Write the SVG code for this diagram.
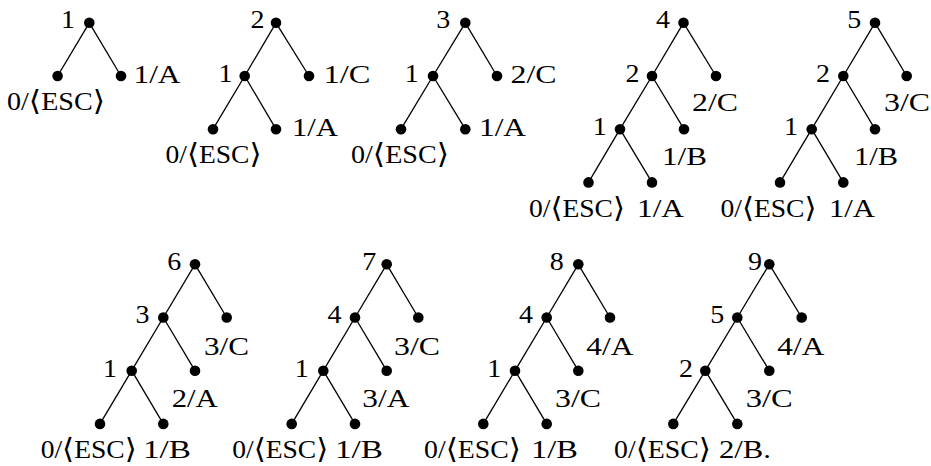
<svg xmlns="http://www.w3.org/2000/svg" width="931" height="466" viewBox="0 0 931 466">
<style>
  .e { stroke: #000; stroke-width: 1.3; fill: none; }
  .d { fill: #000; }
  text { font-family: "Liberation Serif", "DejaVu Serif", "DejaVu Sans", serif; font-size: 25px; fill: #000; }
  .br { font-family: "DejaVu Serif", "DejaVu Sans", serif; font-size: 28px; font-weight: 300; }
</style>
<defs>
  <circle id="dot" r="5.3" class="d"/>
</defs>
<rect width="931" height="466" fill="#fff"/>

<g id="connectors">
  <line class="e" x1="89.3" y1="22.8" x2="57.6" y2="76"/>
  <line class="e" x1="89.3" y1="22.8" x2="121" y2="76"/>
  <line class="e" x1="276" y1="22.8" x2="244.7" y2="76"/>
  <line class="e" x1="276" y1="22.8" x2="309" y2="76"/>
  <line class="e" x1="244.7" y1="76" x2="213" y2="129.2"/>
  <line class="e" x1="244.7" y1="76" x2="276" y2="129.2"/>
  <line class="e" x1="465.3" y1="22.8" x2="433" y2="76"/>
  <line class="e" x1="465.3" y1="22.8" x2="497" y2="76"/>
  <line class="e" x1="433" y1="76" x2="401" y2="129.2"/>
  <line class="e" x1="433" y1="76" x2="465.3" y2="129.2"/>
  <line class="e" x1="683.5" y1="22.8" x2="652" y2="76"/>
  <line class="e" x1="683.5" y1="22.8" x2="716" y2="76"/>
  <line class="e" x1="652" y1="76" x2="620" y2="129.2"/>
  <line class="e" x1="652" y1="76" x2="684" y2="129.2"/>
  <line class="e" x1="620" y1="129.2" x2="588.5" y2="182.4"/>
  <line class="e" x1="620" y1="129.2" x2="652" y2="182.4"/>
  <line class="e" x1="875" y1="22.8" x2="843.3" y2="76"/>
  <line class="e" x1="875" y1="22.8" x2="906.7" y2="76"/>
  <line class="e" x1="843.3" y1="76" x2="811.7" y2="129.2"/>
  <line class="e" x1="843.3" y1="76" x2="875" y2="129.2"/>
  <line class="e" x1="811.7" y1="129.2" x2="780" y2="182.4"/>
  <line class="e" x1="811.7" y1="129.2" x2="843.3" y2="182.4"/>
  <line class="e" x1="195" y1="264.3" x2="163.3" y2="317.5"/>
  <line class="e" x1="195" y1="264.3" x2="226.7" y2="317.5"/>
  <line class="e" x1="163.3" y1="317.5" x2="131.7" y2="370.7"/>
  <line class="e" x1="163.3" y1="317.5" x2="195" y2="370.7"/>
  <line class="e" x1="131.7" y1="370.7" x2="100" y2="423.9"/>
  <line class="e" x1="131.7" y1="370.7" x2="163.3" y2="423.9"/>
  <line class="e" x1="386.7" y1="264.3" x2="355" y2="317.5"/>
  <line class="e" x1="386.7" y1="264.3" x2="418.3" y2="317.5"/>
  <line class="e" x1="355" y1="317.5" x2="323.3" y2="370.7"/>
  <line class="e" x1="355" y1="317.5" x2="386.7" y2="370.7"/>
  <line class="e" x1="323.3" y1="370.7" x2="291.7" y2="423.9"/>
  <line class="e" x1="323.3" y1="370.7" x2="355" y2="423.9"/>
  <line class="e" x1="578.3" y1="264.3" x2="546.7" y2="317.5"/>
  <line class="e" x1="578.3" y1="264.3" x2="610" y2="317.5"/>
  <line class="e" x1="546.7" y1="317.5" x2="515" y2="370.7"/>
  <line class="e" x1="546.7" y1="317.5" x2="578.3" y2="370.7"/>
  <line class="e" x1="515" y1="370.7" x2="483.3" y2="423.9"/>
  <line class="e" x1="515" y1="370.7" x2="546.7" y2="423.9"/>
  <line class="e" x1="769.3" y1="264.3" x2="737.3" y2="317.5"/>
  <line class="e" x1="769.3" y1="264.3" x2="801.7" y2="317.5"/>
  <line class="e" x1="737.3" y1="317.5" x2="705.3" y2="370.7"/>
  <line class="e" x1="737.3" y1="317.5" x2="769.3" y2="370.7"/>
  <line class="e" x1="705.3" y1="370.7" x2="673.3" y2="423.9"/>
  <line class="e" x1="705.3" y1="370.7" x2="737.3" y2="423.9"/>
</g>

<!-- Tree 1 -->
<g id="t1-root"><use href="#dot" x="89.3" y="22.8"/><text x="61" y="28.3" textLength="14" lengthAdjust="spacingAndGlyphs">1</text></g>
<g id="t1-esc"><use href="#dot" x="57.6" y="76"/><text x="7" y="110" textLength="98" lengthAdjust="spacingAndGlyphs">0/<tspan class="br">⟨</tspan>ESC<tspan class="br">⟩</tspan></text></g>
<g id="t1-a"><use href="#dot" x="121" y="76"/><text x="133.5" y="82.5" textLength="47" lengthAdjust="spacingAndGlyphs">1/A</text></g>

<!-- Tree 2 -->
<g id="t2-root"><use href="#dot" x="276" y="22.8"/><text x="250.5" y="28.3" textLength="14" lengthAdjust="spacingAndGlyphs">2</text></g>
<g id="t2-n1"><use href="#dot" x="244.7" y="76"/><text x="218.5" y="81.7" textLength="14" lengthAdjust="spacingAndGlyphs">1</text></g>
<g id="t2-c"><use href="#dot" x="309" y="76"/><text x="323.5" y="82.5" textLength="47" lengthAdjust="spacingAndGlyphs">1/C</text></g>
<g id="t2-esc"><use href="#dot" x="213" y="129.2"/><text x="165.5" y="163" textLength="96" lengthAdjust="spacingAndGlyphs">0/<tspan class="br">⟨</tspan>ESC<tspan class="br">⟩</tspan></text></g>
<g id="t2-a"><use href="#dot" x="276" y="129.2"/><text x="292" y="135.5" textLength="46" lengthAdjust="spacingAndGlyphs">1/A</text></g>

<!-- Tree 3 -->
<g id="t3-root"><use href="#dot" x="465.3" y="22.8"/><text x="436.3" y="28.3" textLength="14" lengthAdjust="spacingAndGlyphs">3</text></g>
<g id="t3-n1"><use href="#dot" x="433" y="76"/><text x="404.7" y="81.7" textLength="14" lengthAdjust="spacingAndGlyphs">1</text></g>
<g id="t3-c"><use href="#dot" x="497" y="76"/><text x="510.5" y="82.5" textLength="46" lengthAdjust="spacingAndGlyphs">2/C</text></g>
<g id="t3-esc"><use href="#dot" x="401" y="129.2"/><text x="351" y="163" textLength="98" lengthAdjust="spacingAndGlyphs">0/<tspan class="br">⟨</tspan>ESC<tspan class="br">⟩</tspan></text></g>
<g id="t3-a"><use href="#dot" x="465.3" y="129.2"/><text x="479" y="135.5" textLength="47" lengthAdjust="spacingAndGlyphs">1/A</text></g>

<!-- Tree 4 -->
<g id="t4-root"><use href="#dot" x="683.5" y="22.8"/><text x="656" y="28.3" textLength="14" lengthAdjust="spacingAndGlyphs">4</text></g>
<g id="t4-n2"><use href="#dot" x="652" y="76"/><text x="625.5" y="81.7" textLength="14" lengthAdjust="spacingAndGlyphs">2</text></g>
<g id="t4-c"><use href="#dot" x="716" y="76"/><text x="692" y="110.5" textLength="46" lengthAdjust="spacingAndGlyphs">2/C</text></g>
<g id="t4-n1"><use href="#dot" x="620" y="129.2"/><text x="592.8" y="135" textLength="14" lengthAdjust="spacingAndGlyphs">1</text></g>
<g id="t4-b"><use href="#dot" x="684" y="129.2"/><text x="662" y="165" textLength="45" lengthAdjust="spacingAndGlyphs">1/B</text></g>
<g id="t4-esc"><use href="#dot" x="588.5" y="182.4"/><text x="529" y="217" textLength="96" lengthAdjust="spacingAndGlyphs">0/<tspan class="br">⟨</tspan>ESC<tspan class="br">⟩</tspan></text></g>
<g id="t4-a"><use href="#dot" x="652" y="182.4"/><text x="637" y="217" textLength="47" lengthAdjust="spacingAndGlyphs">1/A</text></g>

<!-- Tree 5 -->
<g id="t5-root"><use href="#dot" x="875" y="22.8"/><text x="847.2" y="28.3" textLength="14" lengthAdjust="spacingAndGlyphs">5</text></g>
<g id="t5-n2"><use href="#dot" x="843.3" y="76"/><text x="816" y="81.7" textLength="14" lengthAdjust="spacingAndGlyphs">2</text></g>
<g id="t5-c"><use href="#dot" x="906.7" y="76"/><text x="884" y="110.5" textLength="46" lengthAdjust="spacingAndGlyphs">3/C</text></g>
<g id="t5-n1"><use href="#dot" x="811.7" y="129.2"/><text x="784" y="135" textLength="14" lengthAdjust="spacingAndGlyphs">1</text></g>
<g id="t5-b"><use href="#dot" x="875" y="129.2"/><text x="854" y="165" textLength="44" lengthAdjust="spacingAndGlyphs">1/B</text></g>
<g id="t5-esc"><use href="#dot" x="780" y="182.4"/><text x="720.5" y="217" textLength="96" lengthAdjust="spacingAndGlyphs">0/<tspan class="br">⟨</tspan>ESC<tspan class="br">⟩</tspan></text></g>
<g id="t5-a"><use href="#dot" x="843.3" y="182.4"/><text x="829" y="217" textLength="46" lengthAdjust="spacingAndGlyphs">1/A</text></g>

<!-- Tree 6 -->
<g id="t6-root"><use href="#dot" x="195" y="264.3"/><text x="167.2" y="270" textLength="14" lengthAdjust="spacingAndGlyphs">6</text></g>
<g id="t6-n3"><use href="#dot" x="163.3" y="317.5"/><text x="135.5" y="323.3" textLength="14" lengthAdjust="spacingAndGlyphs">3</text></g>
<g id="t6-c"><use href="#dot" x="226.7" y="317.5"/><text x="204" y="355" textLength="45" lengthAdjust="spacingAndGlyphs">3/C</text></g>
<g id="t6-n1"><use href="#dot" x="131.7" y="370.7"/><text x="103" y="376.7" textLength="14" lengthAdjust="spacingAndGlyphs">1</text></g>
<g id="t6-a"><use href="#dot" x="195" y="370.7"/><text x="171.7" y="406.7" textLength="46" lengthAdjust="spacingAndGlyphs">2/A</text></g>
<g id="t6-esc"><use href="#dot" x="100" y="423.9"/><text x="40.7" y="457.5" textLength="96" lengthAdjust="spacingAndGlyphs">0/<tspan class="br">⟨</tspan>ESC<tspan class="br">⟩</tspan></text></g>
<g id="t6-b"><use href="#dot" x="163.3" y="423.9"/><text x="143" y="457.5" textLength="48" lengthAdjust="spacingAndGlyphs">1/B</text></g>

<!-- Tree 7 -->
<g id="t7-root"><use href="#dot" x="386.7" y="264.3"/><text x="362.2" y="270" textLength="14" lengthAdjust="spacingAndGlyphs">7</text></g>
<g id="t7-n4"><use href="#dot" x="355" y="317.5"/><text x="327.5" y="323.3" textLength="14" lengthAdjust="spacingAndGlyphs">4</text></g>
<g id="t7-c"><use href="#dot" x="418.3" y="317.5"/><text x="394" y="355" textLength="46" lengthAdjust="spacingAndGlyphs">3/C</text></g>
<g id="t7-n1"><use href="#dot" x="323.3" y="370.7"/><text x="294.7" y="376.7" textLength="14" lengthAdjust="spacingAndGlyphs">1</text></g>
<g id="t7-a"><use href="#dot" x="386.7" y="370.7"/><text x="362.3" y="406.7" textLength="47" lengthAdjust="spacingAndGlyphs">3/A</text></g>
<g id="t7-esc"><use href="#dot" x="291.7" y="423.9"/><text x="232.3" y="457.5" textLength="96" lengthAdjust="spacingAndGlyphs">0/<tspan class="br">⟨</tspan>ESC<tspan class="br">⟩</tspan></text></g>
<g id="t7-b"><use href="#dot" x="355" y="423.9"/><text x="335" y="457.5" textLength="48" lengthAdjust="spacingAndGlyphs">1/B</text></g>

<!-- Tree 8 -->
<g id="t8-root"><use href="#dot" x="578.3" y="264.3"/><text x="549.7" y="270" textLength="14" lengthAdjust="spacingAndGlyphs">8</text></g>
<g id="t8-n4"><use href="#dot" x="546.7" y="317.5"/><text x="518.9" y="323.3" textLength="14" lengthAdjust="spacingAndGlyphs">4</text></g>
<g id="t8-a"><use href="#dot" x="610" y="317.5"/><text x="586.3" y="355" textLength="47" lengthAdjust="spacingAndGlyphs">4/A</text></g>
<g id="t8-n1"><use href="#dot" x="515" y="370.7"/><text x="487.3" y="376.7" textLength="14" lengthAdjust="spacingAndGlyphs">1</text></g>
<g id="t8-c"><use href="#dot" x="578.3" y="370.7"/><text x="555" y="406.7" textLength="46" lengthAdjust="spacingAndGlyphs">3/C</text></g>
<g id="t8-esc"><use href="#dot" x="483.3" y="423.9"/><text x="424" y="457.5" textLength="97" lengthAdjust="spacingAndGlyphs">0/<tspan class="br">⟨</tspan>ESC<tspan class="br">⟩</tspan></text></g>
<g id="t8-b"><use href="#dot" x="546.7" y="423.9"/><text x="531" y="457.5" textLength="47" lengthAdjust="spacingAndGlyphs">1/B</text></g>

<!-- Tree 9 -->
<g id="t9-root"><use href="#dot" x="769.3" y="264.3"/><text x="748" y="270" textLength="14" lengthAdjust="spacingAndGlyphs">9</text></g>
<g id="t9-n5"><use href="#dot" x="737.3" y="317.5"/><text x="710.2" y="323.3" textLength="14" lengthAdjust="spacingAndGlyphs">5</text></g>
<g id="t9-a"><use href="#dot" x="801.7" y="317.5"/><text x="777.3" y="355" textLength="47" lengthAdjust="spacingAndGlyphs">4/A</text></g>
<g id="t9-n2"><use href="#dot" x="705.3" y="370.7"/><text x="679" y="376.7" textLength="14" lengthAdjust="spacingAndGlyphs">2</text></g>
<g id="t9-c"><use href="#dot" x="769.3" y="370.7"/><text x="745.7" y="406.7" textLength="47" lengthAdjust="spacingAndGlyphs">3/C</text></g>
<g id="t9-esc"><use href="#dot" x="673.3" y="423.9"/><text x="614" y="457.5" textLength="97" lengthAdjust="spacingAndGlyphs">0/<tspan class="br">⟨</tspan>ESC<tspan class="br">⟩</tspan></text></g>
<g id="t9-b"><use href="#dot" x="737.3" y="423.9"/><text x="719" y="457.5" textLength="52" lengthAdjust="spacingAndGlyphs">2/B.</text></g>
</svg>
